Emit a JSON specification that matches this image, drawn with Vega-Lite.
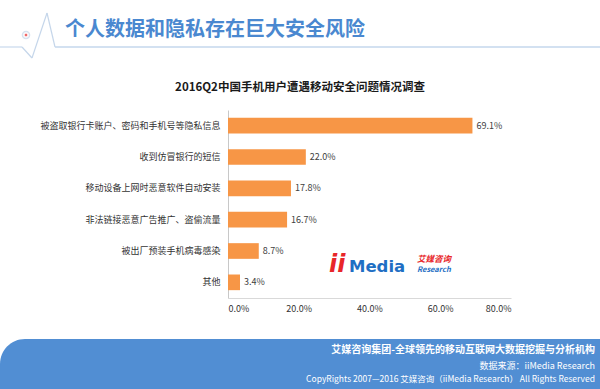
{
  "$schema": "https://vega.github.io/schema/vega-lite/v6.json",
  "width": 283,
  "height": 188,
  "autosize": {"type": "none"},
  "padding": {"left": 228, "top": 110, "right": 89, "bottom": 91},
  "background": "white",
  "config": {"view": {"stroke": null}, "font": "Noto Sans CJK SC"},
  "data": {
    "values": [
      {"cat": "被盗取银行卡账户、密码和手机号等隐私信息", "value": 0.691},
      {"cat": "收到仿冒银行的短信", "value": 0.220},
      {"cat": "移动设备上网时恶意软件自动安装", "value": 0.178},
      {"cat": "非法链接恶意广告推广、盗偷流量", "value": 0.167},
      {"cat": "被出厂预装手机病毒感染", "value": 0.087},
      {"cat": "其他", "value": 0.034}
    ]
  },
  "layer": [
    {
      "data": {"values": [{"a": 1}]},
      "mark": {"type": "rect", "color": "#518ed3", "cornerRadiusTopLeft": 28},
      "encoding": {"x": {"value": -228}, "x2": {"value": 372}, "y": {"value": 229}, "y2": {"value": 279}}
    },
    {
      "data": {"values": [{"a": 1}]},
      "mark": {"type": "rule", "color": "#d3e1f1", "strokeWidth": 2},
      "encoding": {"x": {"value": -173}, "x2": {"value": 372}, "y": {"value": -63}}
    },
    {
      "data": {"values": [{"a": 1}]},
      "mark": {"type": "rule", "color": "#d3e1f1", "strokeWidth": 1.5},
      "encoding": {"x": {"value": -228}, "x2": {"value": -206}, "y": {"value": -63}}
    },
    {
      "data": {"values": [{"a": 1}]},
      "mark": {"type": "rule", "color": "#c5d6ea", "strokeWidth": 1.2},
      "encoding": {"x": {"value": -206}, "x2": {"value": -196}, "y": {"value": -63}, "y2": {"value": -52}}
    },
    {
      "data": {"values": [{"a": 1}]},
      "mark": {"type": "rule", "color": "#c5d6ea", "strokeWidth": 1.2},
      "encoding": {"x": {"value": -196}, "x2": {"value": -181}, "y": {"value": -52}, "y2": {"value": -97}}
    },
    {
      "data": {"values": [{"a": 1}]},
      "mark": {"type": "rule", "color": "#c5d6ea", "strokeWidth": 1.2},
      "encoding": {"x": {"value": -181}, "x2": {"value": -173}, "y": {"value": -97}, "y2": {"value": -63}}
    },
    {
      "data": {"values": [{"a": 1}]},
      "mark": {"type": "point", "shape": "circle", "size": 50, "stroke": "#c5d6ea", "strokeWidth": 1.5, "fill": "white", "filled": false},
      "encoding": {"x": {"value": -202}, "y": {"value": -75}}
    },
    {
      "data": {"values": [{"a": 1}]},
      "mark": {"type": "point", "shape": "square", "size": 6, "color": "#e8262a", "filled": true},
      "encoding": {"x": {"value": -202}, "y": {"value": -75}}
    },
    {
      "data": {"values": [{"t": "个人数据和隐私存在巨大安全风险"}]},
      "mark": {"type": "text", "align": "left", "baseline": "middle", "fontSize": 20, "fontWeight": "bold", "color": "#4a88d0"},
      "encoding": {"x": {"value": -163}, "y": {"value": -80}, "text": {"field": "t"}}
    },
    {
      "data": {"values": [{"t": "2016Q2中国手机用户遭遇移动安全问题情况调查"}]},
      "mark": {"type": "text", "align": "center", "baseline": "middle", "fontSize": 11.5, "fontWeight": "bold", "color": "#1a1a1a"},
      "encoding": {"x": {"value": 72}, "y": {"value": -22}, "text": {"field": "t"}}
    },
    {
      "mark": {"type": "bar", "color": "#f79646"},
      "encoding": {
        "y": {
          "field": "cat", "type": "nominal", "sort": null,
          "scale": {"paddingInner": 0.5, "paddingOuter": 0.25},
          "axis": {"title": null, "ticks": false, "domainColor": "#c8c8c8", "labelPadding": 8, "labelFontSize": 9, "labelColor": "#333333", "labelLimit": 250}
        },
        "x": {
          "field": "value", "type": "quantitative",
          "scale": {"domain": [0, 0.8]},
          "axis": {"title": null, "format": ".1%", "values": [0, 0.2, 0.4, 0.6, 0.8], "grid": false, "ticks": false, "domainColor": "#d9d9d9", "labelPadding": 6, "labelFontSize": 9, "labelColor": "#333333"}
        }
      }
    },
    {
      "mark": {"type": "text", "align": "left", "baseline": "middle", "dx": 4, "fontSize": 9, "color": "#404040"},
      "encoding": {
        "y": {"field": "cat", "type": "nominal", "sort": null},
        "x": {"field": "value", "type": "quantitative"},
        "text": {"field": "value", "type": "quantitative", "format": ".1%"}
      }
    },
    {
      "data": {"values": [{"t": "ii"}]},
      "mark": {"type": "text", "align": "left", "baseline": "alphabetic", "fontSize": 24, "fontWeight": "bold", "fontStyle": "italic", "color": "#e8262a", "font": "DejaVu Sans"},
      "encoding": {"x": {"value": 101}, "y": {"value": 162}, "text": {"field": "t"}}
    },
    {
      "data": {"values": [{"t": "Media"}]},
      "mark": {"type": "text", "align": "left", "baseline": "alphabetic", "fontSize": 16.5, "fontWeight": "bold", "color": "#1f6fc4", "font": "DejaVu Sans"},
      "encoding": {"x": {"value": 121}, "y": {"value": 162}, "text": {"field": "t"}}
    },
    {
      "data": {"values": [{"t": "艾媒咨询"}]},
      "mark": {"type": "text", "align": "left", "baseline": "middle", "fontSize": 8.5, "fontWeight": "bold", "fontStyle": "italic", "color": "#e8262a"},
      "encoding": {"x": {"value": 189}, "y": {"value": 149}, "text": {"field": "t"}}
    },
    {
      "data": {"values": [{"t": "Research"}]},
      "mark": {"type": "text", "align": "left", "baseline": "middle", "fontSize": 7.5, "fontWeight": "bold", "fontStyle": "italic", "color": "#1f6fc4"},
      "encoding": {"x": {"value": 189}, "y": {"value": 160}, "text": {"field": "t"}}
    },
    {
      "data": {"values": [{"t": "艾媒咨询集团-全球领先的移动互联网大数据挖掘与分析机构"}]},
      "mark": {"type": "text", "align": "right", "baseline": "middle", "fontSize": 10, "fontWeight": "bold", "color": "white"},
      "encoding": {"x": {"value": 367}, "y": {"value": 240}, "text": {"field": "t"}}
    },
    {
      "data": {"values": [{"t": "数据来源：iiMedia Research"}]},
      "mark": {"type": "text", "align": "right", "baseline": "middle", "fontSize": 9, "color": "white"},
      "encoding": {"x": {"value": 367}, "y": {"value": 256}, "text": {"field": "t"}}
    },
    {
      "data": {"values": [{"t": "CopyRights 2007—2016 艾媒咨询（iiMedia Research） All Rights Reserved"}]},
      "mark": {"type": "text", "align": "right", "baseline": "middle", "fontSize": 8.5, "color": "white"},
      "encoding": {"x": {"value": 367}, "y": {"value": 269}, "text": {"field": "t"}}
    }
  ]
}
